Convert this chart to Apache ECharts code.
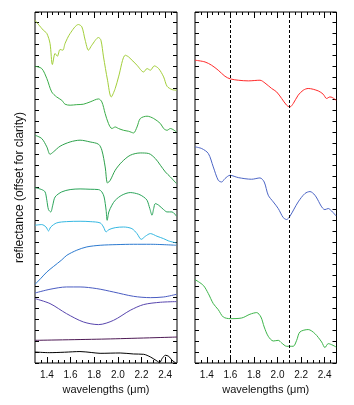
<!DOCTYPE html>
<html><head><meta charset="utf-8">
<script src="https://cdn.jsdelivr.net/npm/echarts@6/dist/echarts.min.js"></script>
<style>html,body{margin:0;padding:0;background:#fff}#c{width:354px;height:405px}</style>
</head><body><div id="c"></div>
<script>
// ---- tick labels ----
const majorTicks = [1.4, 1.6, 1.8, 2.0, 2.2, 2.4];
const minorTicks = [1.35, 1.45, 1.5, 1.55, 1.65, 1.7, 1.75, 1.85, 1.9, 1.95, 2.05, 2.1, 2.15, 2.25, 2.3, 2.35, 2.45];
const dashedLines = [1.6, 2.1];

// ---- left panel spectra ----
const wlL1 = [1.30,1.37,1.40,1.427,1.447,1.47,1.489,1.512,1.535,1.554,1.597,1.667,1.696,1.724,1.752,1.78,1.837,1.857,1.879,1.913,1.944,1.978,2.006,2.063,2.091,2.162,2.218,2.247,2.275,2.308,2.345,2.387,2.416,2.458,2.495];
const rL1 = [3.115,3.025,2.995,2.904,2.713,2.813,2.788,2.849,2.843,2.904,2.995,3.076,3.055,2.934,2.843,2.888,2.958,2.934,2.782,2.570,2.418,2.495,2.6,2.797,2.782,2.706,2.645,2.676,2.661,2.7,2.676,2.6,2.515,2.485,2.479];
const wlL2 = [1.30,1.357,1.40,1.441,1.483,1.526,1.554,1.597,1.653,1.709,1.766,1.837,1.865,1.893,1.921,1.95,1.978,2.006,2.048,2.091,2.133,2.162,2.19,2.247,2.303,2.36,2.387,2.416,2.444,2.495];
const rL2 = [2.697,2.676,2.585,2.464,2.418,2.388,2.352,2.343,2.348,2.352,2.373,2.4,2.373,2.267,2.176,2.131,2.145,2.131,2.115,2.106,2.091,2.145,2.222,2.243,2.222,2.176,2.131,2.115,2.131,2.1];
const wlL3 = [1.30,1.357,1.40,1.427,1.455,1.512,1.597,1.681,1.766,1.837,1.865,1.893,1.913,1.936,1.978,2.034,2.105,2.19,2.26,2.317,2.36,2.402,2.444,2.495];
const rL3 = [2.07,2.04,1.964,1.897,1.918,1.97,2.009,2.025,2.009,1.988,1.934,1.782,1.636,1.661,1.752,1.827,1.888,1.909,1.904,1.858,1.797,1.736,1.691,1.631];
const wlL4 = [1.30,1.357,1.385,1.40,1.414,1.433,1.45,1.47,1.526,1.597,1.681,1.766,1.837,1.865,1.884,1.901,1.91,1.924,1.95,1.978,2.034,2.105,2.176,2.218,2.247,2.27,2.289,2.303,2.317,2.345,2.387,2.416,2.458,2.495];
const rL4 = [1.594,1.576,1.555,1.479,1.394,1.373,1.434,1.509,1.555,1.576,1.582,1.579,1.576,1.555,1.509,1.388,1.297,1.373,1.434,1.479,1.525,1.549,1.534,1.509,1.479,1.404,1.343,1.404,1.449,1.434,1.394,1.373,1.373,1.334];
const wlL5 = [1.30,1.357,1.393,1.414,1.433,1.483,1.566,1.681,1.766,1.851,1.879,1.901,1.924,1.978,2.048,2.119,2.162,2.198,2.233,2.275,2.331,2.387,2.43,2.495];
const rL5 = [1.252,1.258,1.236,1.2,1.236,1.273,1.285,1.288,1.285,1.273,1.236,1.191,1.212,1.230,1.236,1.221,1.176,1.124,1.152,1.176,1.152,1.13,1.109,1.091];
const wlL6 = [1.30,1.35,1.40,1.455,1.526,1.569,1.653,1.738,1.851,1.992,2.133,2.275,2.495];
const rL6 = [0.715,0.77,0.827,0.876,0.937,0.979,1.025,1.055,1.07,1.076,1.079,1.079,1.07];
const wlL7 = [1.30,1.427,1.566,1.681,1.822,1.964,2.133,2.275,2.387,2.495];
const rL7 = [0.636,0.670,0.691,0.691,0.676,0.645,0.606,0.594,0.6,0.624];
const wlL8 = [1.30,1.427,1.566,1.709,1.837,1.964,2.105,2.218,2.36,2.495];
const rL8 = [0.585,0.54,0.449,0.373,0.349,0.388,0.479,0.531,0.552,0.558];
const wlL9 = [1.30,1.9,2.5];
const rL9 = [0.206,0.218,0.236];
const wlL10 = [1.30,1.42,1.55,1.68,1.78,1.85,2.02,2.133,2.218,2.275,2.331,2.353,2.374,2.402,2.43,2.458,2.49];
const rL10 = [0.1,0.094,0.098,0.104,0.095,0.088,0.091,0.082,0.079,0.055,0.018,0.003,0.04,0.07,0.061,0.025,0.0];

// ---- right panel spectra ----
const wlR1 = [1.30,1.385,1.441,1.497,1.554,1.599,1.667,1.752,1.851,1.893,1.95,1.992,2.035,2.077,2.105,2.133,2.175,2.218,2.26,2.345,2.387,2.416,2.444,2.464,2.497];
const rR1 = [2.752,2.736,2.706,2.661,2.606,2.582,2.57,2.564,2.57,2.545,2.495,2.464,2.404,2.343,2.327,2.358,2.434,2.479,2.495,2.473,2.443,2.404,2.418,2.413,2.388];
const wlR2 = [1.30,1.357,1.413,1.455,1.497,1.526,1.554,1.597,1.667,1.78,1.851,1.887,1.921,1.964,2.006,2.048,2.077,2.105,2.175,2.232,2.275,2.317,2.402,2.43,2.458,2.497];
const rR2 = [1.964,1.949,1.904,1.782,1.661,1.645,1.676,1.706,1.685,1.67,1.682,1.645,1.525,1.464,1.404,1.322,1.304,1.334,1.464,1.54,1.558,1.525,1.394,1.404,1.382,1.336];
const wlR3 = [1.30,1.37,1.413,1.455,1.497,1.54,1.599,1.696,1.766,1.823,1.859,1.887,1.921,1.964,2.006,2.035,2.077,2.133,2.162,2.19,2.26,2.317,2.374,2.402,2.43,2.497];
const rR3 = [0.758,0.706,0.631,0.54,0.485,0.418,0.403,0.409,0.443,0.458,0.418,0.327,0.243,0.2,0.206,0.182,0.152,0.152,0.206,0.282,0.304,0.267,0.191,0.14,0.176,0.145];

const leftSpectra = [
  [wlL1, rL1, '#a3cf3a'], [wlL2, rL2, '#3aad48'], [wlL3, rL3, '#2ea24c'],
  [wlL4, rL4, '#2ba55a'], [wlL5, rL5, '#35b8e2'], [wlL6, rL6, '#2c7ad0'],
  [wlL7, rL7, '#4a5cc2'], [wlL8, rL8, '#5846ae'], [wlL9, rL9, '#4e1a55'],
  [wlL10, rL10, '#000000']
];
const rightSpectra = [
  [wlR1, rR1, '#ff2a2a'], [wlR2, rR2, '#4d66c6'], [wlR3, rR3, '#3db54a']
];

function zip(a, b) { return a.map((v, i) => [v, b[i]]); }

const FONT = 'Liberation Sans, Arial, sans-serif';
const grids = [
  {left: 35, top: 12, width: 142, height: 351},
  {left: 195, top: 12, width: 141.5, height: 351}
];

const xAxes = [];
const yAxes = [];
grids.forEach((g, gi) => {
  const base = {type: 'value', gridIndex: gi, min: 1.3, max: 2.5, splitLine: {show: false},
    axisLine: {show: false}};
  xAxes.push(Object.assign({}, base, {position: 'bottom',
    name: 'wavelengths (\u03BCm)', nameLocation: 'middle', nameGap: 20,
    nameTextStyle: {fontFamily: FONT, fontSize: 11, color: '#111'},
    axisTick: {show: true, inside: true, length: 6, customValues: majorTicks, lineStyle: {color: '#000', width: 1}},
    axisLabel: {show: true, customValues: majorTicks, margin: 7, fontFamily: FONT, fontSize: 10, color: '#111',
      formatter: v => v.toFixed(1)}}));
  xAxes.push(Object.assign({}, base, {position: 'bottom',
    axisTick: {show: true, inside: true, length: 3, customValues: minorTicks, lineStyle: {color: '#000', width: 1}},
    axisLabel: {show: false}}));
  xAxes.push(Object.assign({}, base, {position: 'top',
    axisTick: {show: true, inside: true, length: 6, customValues: majorTicks, lineStyle: {color: '#000', width: 1}},
    axisLabel: {show: false}}));
  xAxes.push(Object.assign({}, base, {position: 'top',
    axisTick: {show: true, inside: true, length: 3, customValues: minorTicks, lineStyle: {color: '#000', width: 1}},
    axisLabel: {show: false}}));
  ['left', 'right'].forEach(pos => {
    const y = {type: 'value', gridIndex: gi, position: pos, min: 0, max: 3.19, interval: 0.1,
      splitLine: {show: false}, axisLine: {show: false},
      axisTick: {show: true, inside: true, length: 4, lineStyle: {color: '#000', width: 1}},
      axisLabel: {show: false}};
    if (gi === 0 && pos === 'left') {
      y.name = 'reflectance (offset for clarity)';
      y.nameLocation = 'middle';
      y.nameGap = 9;
      y.nameTextStyle = {fontFamily: FONT, fontSize: 12, color: '#111'};
    }
    yAxes.push(y);
  });
});

const series = [];
leftSpectra.forEach(s => {
  series.push({type: 'line', xAxisIndex: 0, yAxisIndex: 0, data: zip(s[0], s[1]),
    showSymbol: false, smooth: 0.3, lineStyle: {color: s[2], width: 1}, itemStyle: {color: s[2]}});
});
rightSpectra.forEach((s, i) => {
  const ser = {type: 'line', xAxisIndex: 4, yAxisIndex: 2, data: zip(s[0], s[1]),
    showSymbol: false, smooth: 0.3, lineStyle: {color: s[2], width: 1}, itemStyle: {color: s[2]}};
  if (i === 0) {
    ser.markLine = {silent: true, symbol: 'none', label: {show: false},
      lineStyle: {color: '#000', type: [3, 2], width: 1},
      data: dashedLines.map(v => ({xAxis: v}))};
  }
  series.push(ser);
});

const chart = echarts.init(document.getElementById('c'), null, {renderer: 'canvas'});
chart.setOption({
  animation: false,
  backgroundColor: '#fff',
  grid: grids.map(g => Object.assign({show: true, borderColor: '#000', borderWidth: 1, backgroundColor: 'transparent'}, g)),
  xAxis: xAxes,
  yAxis: yAxes,
  series: series
});
</script></body></html>
